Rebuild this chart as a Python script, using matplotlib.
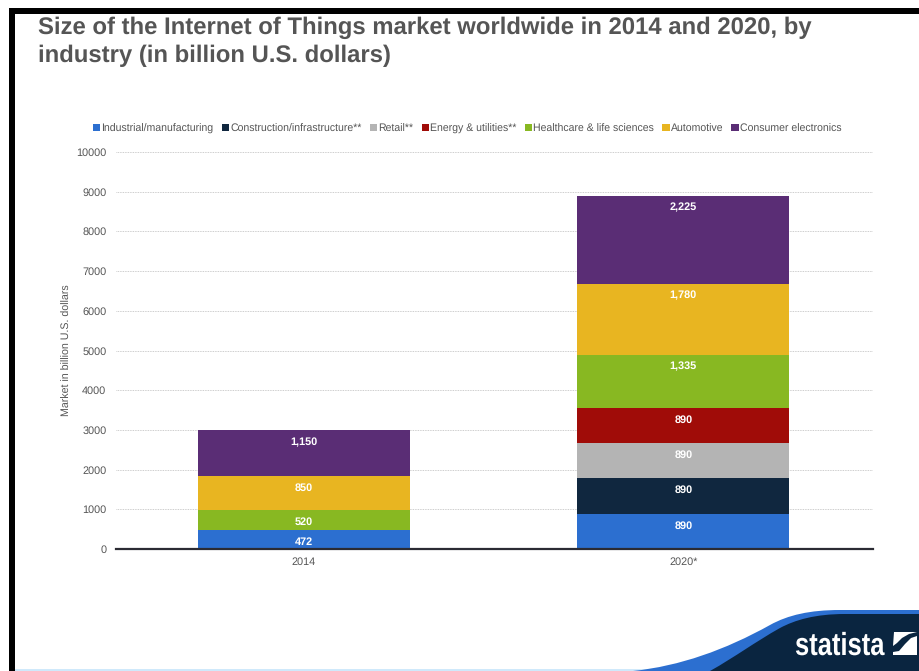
import matplotlib
matplotlib.use("Agg")
import matplotlib.pyplot as plt
import matplotlib.patheffects as pe
from matplotlib.patches import PathPatch, Rectangle, Polygon
from matplotlib.path import Path
from matplotlib.transforms import Affine2D

plt.rcParams['font.family'] = ['Liberation Sans', 'DejaVu Sans']
plt.rcParams['text.hinting'] = 'none'

years = ["2014", "2020*"]
industries = ["Industrial/manufacturing", "Construction/infrastructure**", "Retail**",
              "Energy & utilities**", "Healthcare & life sciences", "Automotive",
              "Consumer electronics"]
colors = ["#2c6fd0", "#10273f", "#b4b4b4", "#a00c08", "#88b822", "#e8b521", "#5a2d75"]
values_2014 = [472, 0, 0, 0, 520, 850, 1150]
values_2020 = [890, 890, 890, 890, 1335, 1780, 2225]
y_ticks = list(range(0, 11000, 1000))


class Condensed(pe.AbstractPathEffect):
    """Narrow the glyph outlines horizontally."""

    def __init__(self, factor):
        super().__init__()
        self.factor = factor

    def draw_path(self, renderer, gc, tpath, affine, rgbFace=None):
        renderer.draw_path(gc, tpath, Affine2D().scale(self.factor, 1) + affine, rgbFace)


W, H = 920, 671
fig = plt.figure(figsize=(W / 100, H / 100), dpi=100, facecolor="white")
ax = fig.add_axes([116 / W, 1 - 549 / H, 757 / W, 397 / H])

bottoms = [0, 0]
for name, color, a, b in zip(industries, colors, values_2014, values_2020):
    heights = [a, b]
    ax.bar([0, 1], heights, width=0.558, bottom=bottoms, color=color, label=name, zorder=3)
    for i, h in enumerate(heights):
        if h:
            # Value labels hang just inside the top of each segment
            ax.annotate(f"{h:,}", (i, bottoms[i] + h), xytext=(0, -8.6),
                        textcoords="offset points", ha="center", va="center",
                        color="white", fontsize=7.8, fontweight="bold", zorder=4)
    bottoms = [bottoms[0] + a, bottoms[1] + b]

ax.set_xlim(-0.495, 1.5)
ax.set_ylim(0, 10000)
ax.set_xticks([0, 1], years)
ax.set_yticks(y_ticks)
ax.grid(axis="y", color="#bcbcbc", linestyle=(0, (1, 1)), linewidth=0.6, zorder=0)
ax.tick_params(length=0, labelsize=7.8, labelcolor="#555555")
ax.tick_params(axis="y", pad=7)
ax.tick_params(axis="x", pad=6)
for side in ("top", "right", "left"):
    ax.spines[side].set_visible(False)
ax.spines["bottom"].set_color("#2b2b33")
ax.spines["bottom"].set_linewidth(1.6)
ax.spines["bottom"].set_zorder(5)
ax.set_ylabel("Market in billion U.S. dollars", fontsize=7.65, color="#555555", labelpad=3)

ax.legend(ncol=7, loc="center", bbox_to_anchor=(0.464, 1.059), frameon=False,
          fontsize=7.6, labelcolor="#555555", handlelength=0.7, handleheight=0.7,
          handletextpad=0.1, columnspacing=0.78, borderpad=0, borderaxespad=0)

# Page frame, title and footer strip
bg = fig.add_axes([0, 0, 1, 1], zorder=-1)
bg.set_xlim(0, W)
bg.set_ylim(H, 0)
bg.axis("off")
bg.add_patch(Rectangle((9, 8), W - 9, 6, color="black", lw=0))
bg.add_patch(Rectangle((9, 8), 6, H - 8, color="black", lw=0))
bg.add_patch(Rectangle((15, 669), W - 15, 2, color="#cfe9fb", lw=0))

fig.text(38 / W, 1 - 34 / H, "Size of the Internet of Things market worldwide in 2014 and 2020, by",
         fontsize=17.2, fontweight="bold", color="#555555", va="baseline")
fig.text(38 / W, 1 - 62 / H, "industry (in billion U.S. dollars)",
         fontsize=17.2, fontweight="bold", color="#555555", va="baseline")

# Footer swoosh with the publisher's mark
fg = fig.add_axes([0, 0, 1, 1], zorder=5)
fg.set_xlim(0, W)
fg.set_ylim(H, 0)
fg.axis("off")
fg.patch.set_alpha(0)
blue = [(Path.MOVETO, (633, 671)), (Path.CURVE4, (680, 666)), (Path.CURVE4, (725, 650)),
        (Path.CURVE4, (770, 625)), (Path.CURVE4, (788, 615)), (Path.CURVE4, (810, 610)),
        (Path.CURVE4, (840, 610)), (Path.LINETO, (920, 610)), (Path.LINETO, (920, 671)),
        (Path.CLOSEPOLY, (633, 671))]
navy = [(Path.MOVETO, (710, 671)), (Path.CURVE4, (735, 657)), (Path.CURVE4, (755, 642)),
        (Path.CURVE4, (780, 628)), (Path.CURVE4, (795, 620)), (Path.CURVE4, (815, 614)),
        (Path.CURVE4, (845, 614)), (Path.LINETO, (920, 614)), (Path.LINETO, (920, 671)),
        (Path.CLOSEPOLY, (710, 671))]
for segs, col in ((blue, "#2c6fd0"), (navy, "#0a2540")):
    codes, verts = zip(*segs)
    fg.add_patch(PathPatch(Path(verts, codes), facecolor=col, lw=0))
fg.text(795, 655, "statista", fontsize=23, fontweight="bold", color="white",
        va="baseline", ha="left", path_effects=[Condensed(0.80)])
fg.add_patch(Polygon([(894, 632), (917, 632), (909, 634), (902, 638), (897, 643), (893, 646)],
                     color="white", lw=0))
fg.add_patch(Polygon([(893, 655), (917, 655), (917, 636), (911, 638), (905, 644), (899, 651), (893, 652)],
                     color="white", lw=0))

fig.savefig("out.png", dpi=100, facecolor="white")
